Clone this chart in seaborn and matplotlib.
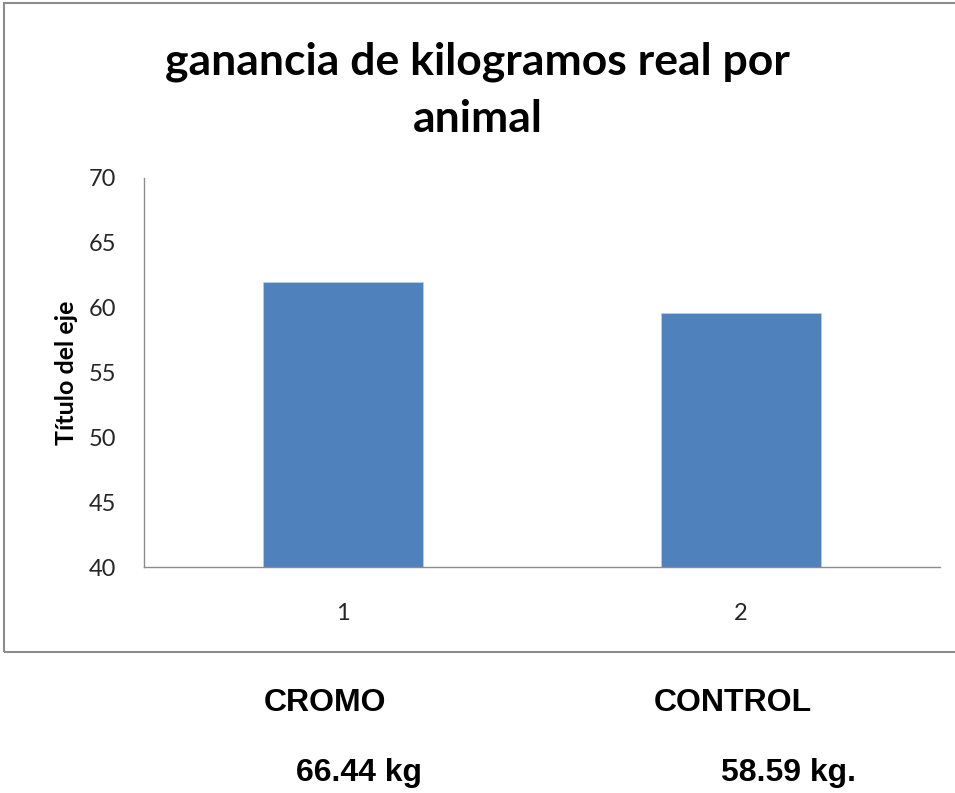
import matplotlib
matplotlib.use("Agg")
import matplotlib.pyplot as plt
import seaborn as sns
import pandas as pd
from matplotlib.patches import Rectangle

# Data
categories = ["1", "2"]
values = [62.0, 59.6]
group_names = ["CROMO", "CONTROL"]
group_totals = ["66.44 kg", "58.59 kg."]

sns.set_theme(style="white")
plt.rcParams["font.family"] = ["Lato", "DejaVu Sans"]
plt.rcParams["text.color"] = "black"

W, H = 955, 793
fig = plt.figure(figsize=(W / 100, H / 100), dpi=100)
fig.patch.set_facecolor("white")

def fx(px):
    return px / W

def fy(py):
    return 1 - py / H

# Chart area frame
fig.patches.append(Rectangle((fx(4), fy(652)), fx(960) - fx(4), fy(3) - fy(652),
                             transform=fig.transFigure, fill=False,
                             edgecolor="#8c8c8c", linewidth=1.5, zorder=0))

ax = fig.add_axes([fx(144), fy(567), fx(940) - fx(144), fy(178) - fy(567)])
df = pd.DataFrame({"cat": categories, "val": values})
sns.barplot(data=df, x="cat", y="val", ax=ax, color="#4f81bd", saturation=1,
            width=0.4, edgecolor="#b9cde5", linewidth=0.6)

ax.set_xlim(-0.5, 1.5)
ax.set_ylim(40, 70)
ax.set_yticks(range(40, 71, 5))
ax.tick_params(axis="both", length=0, labelsize=17, colors="#262626")
ax.tick_params(axis="y", pad=20)
ax.tick_params(axis="x", pad=26)
ax.set_xlabel("")
ax.set_ylabel("Título del eje", fontsize=18, fontweight="bold", labelpad=8,
              color="black")
for side in ["top", "right"]:
    ax.spines[side].set_visible(False)
for side in ["left", "bottom"]:
    ax.spines[side].set_color("#8c8c8c")
    ax.spines[side].set_linewidth(1.0)

fig.text(0.5, fy(90), "ganancia de kilogramos real por\nanimal", ha="center",
         va="center", fontsize=32, fontweight="bold", linespacing=1.5,
         color="black")

# Group annotations below the chart
for i, (name, total) in enumerate(zip(group_names, group_totals)):
    xname = [325, 733][i]
    xtot = [359, 788][i]
    fig.text(fx(xname), fy(703), name, ha="center", va="center", fontsize=23,
             fontweight="bold", color="black",
             family=["Liberation Sans", "DejaVu Sans"])
    fig.text(fx(xtot), fy(773), total, ha="center", va="center", fontsize=23,
             fontweight="bold", color="black",
             family=["Liberation Sans", "DejaVu Sans"])

fig.savefig("out.png", dpi=100, facecolor="white")
